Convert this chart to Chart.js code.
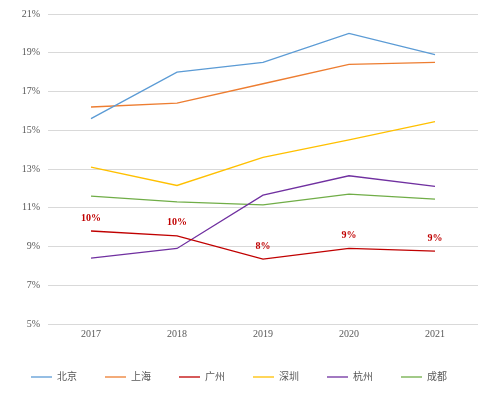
<!DOCTYPE html>
<html>
<head>
<meta charset="utf-8">
<script src="https://cdn.jsdelivr.net/npm/chart.js@4"></script>
<style>
  html, body { margin: 0; padding: 0; background: #fff; }
  #wrap { width: 500px; height: 395px; position: relative; }
</style>
</head>
<body>
<div id="wrap"><canvas id="c"></canvas></div>
<script>
// years on the x axis
const years = ['2017', '2018', '2019', '2020', '2021'];

// share per city, in %
const beijing   = [15.6, 18.0, 18.5, 20.0, 18.9];
const shanghai  = [16.2, 16.4, 17.4, 18.4, 18.5];
const guangzhou = [9.8, 9.55, 8.35, 8.9, 8.76];
const shenzhen  = [13.1, 12.15, 13.6, 14.5, 15.45];
const hangzhou  = [8.4, 8.9, 11.65, 12.65, 12.1];
const chengdu   = [11.6, 11.3, 11.15, 11.7, 11.45];

const cities = ['北京', '上海', '广州', '深圳', '杭州', '成都'];
const colors = ['#5B9BD5', '#ED7D31', '#C00000', '#FFC000', '#7030A0', '#70AD47'];
const series = [beijing, shanghai, guangzhou, shenzhen, hangzhou, chengdu];

// y axis 5% .. 21%, every 2%
const yMin = 5, yMax = 21, yStep = 2;

const labelFont = '"Liberation Serif", "Noto Sans CJK SC", serif';

// red percentage labels above the 广州 line
const gzLabels = {
  id: 'gzLabels',
  afterDatasetsDraw(chart) {
    const meta = chart.getDatasetMeta(2);
    const ctx = chart.ctx;
    ctx.save();
    ctx.fillStyle = '#C00000';
    ctx.font = 'bold 10px ' + labelFont;
    ctx.textAlign = 'center';
    ctx.textBaseline = 'bottom';
    meta.data.forEach((pt, i) => {
      ctx.fillText(Math.round(guangzhou[i]) + '%', pt.x, pt.y - 8);
    });
    ctx.restore();
  }
};

new Chart(document.getElementById('c').getContext('2d'), {
  type: 'line',
  data: {
    labels: years,
    datasets: series.map((d, i) => ({
      label: cities[i], data: d,
      borderColor: colors[i], backgroundColor: colors[i],
      borderWidth: 1.3, pointRadius: 0, tension: 0, fill: false
    }))
  },
  options: {
    responsive: true, maintainAspectRatio: false, animation: false,
    layout: {padding: {left: 0, right: 22, top: 11, bottom: 3}},
    scales: {
      x: {
        offset: true,
        grid: {display: false, drawTicks: false},
        border: {display: false},
        ticks: {color: '#595959', font: {size: 10, family: labelFont}, padding: 4}
      },
      y: {
        min: yMin, max: yMax,
        grid: {color: '#D9D9D9', lineWidth: 1, drawTicks: false},
        border: {display: false},
        ticks: {stepSize: yStep, color: '#595959', font: {size: 10, family: labelFont}, padding: 8, callback: v => v + '%'},
        afterFit: s => { s.width = 48; }
      }
    },
    plugins: {
      legend: {
        position: 'bottom',
        labels: {
          color: '#595959', font: {size: 10, family: labelFont},
          usePointStyle: true, pointStyle: 'line', pointStyleWidth: 21,
          boxHeight: 10, padding: 28
        }
      },
      tooltip: {enabled: false}
    }
  },
  plugins: [gzLabels]
});
</script>
</body>
</html>
